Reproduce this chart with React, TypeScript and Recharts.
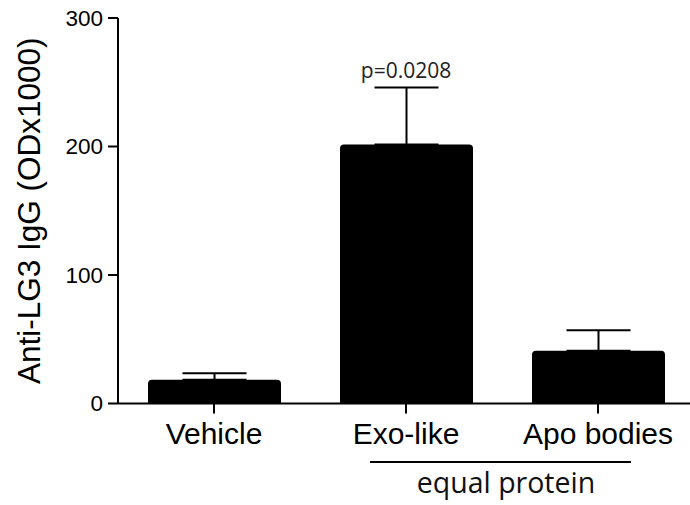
import React from 'react';
import { BarChart, Bar, XAxis, YAxis, ErrorBar, ReferenceDot } from 'recharts';

const categories = ['Vehicle', 'Exo-like', 'Apo bodies'];
const means = [18.5, 201.5, 41];
const sems = [5, 44.5, 16];
const yTicks = [0, 100, 200, 300];
const pValueLabel = 'p=0.0208';
const groupLabel = 'equal protein';

const data = categories.map((c, i) => ({ name: c, value: means[i], err: [0, sems[i]] }));

const XTick = (props: any) => {
  const { x, y, payload } = props;
  return (
    <text x={x} y={y} dy="0.71em" textAnchor="middle" fontSize={30} fill="#000"
      fontFamily="'Liberation Sans', Arial, sans-serif">{payload.value}</text>
  );
};

const YTick = (props: any) => {
  const { x, y, payload } = props;
  return (
    <text x={x} y={y} dy="0.355em" textAnchor="end" fontSize={22.5} fill="#000"
      fontFamily="'Liberation Sans', Arial, sans-serif">{payload.value}</text>
  );
};

export default function App() {
  return (
    <div style={{ position: 'absolute', left: 0, top: 0, width: 690, height: 505, background: '#fff' }}>
      <BarChart width={690} height={505} data={data}
        margin={{ top: 18, right: -4, bottom: 71.5, left: 0 }}>
        <XAxis dataKey="name" height={30} stroke="#000" strokeWidth={2} tickSize={10} tickMargin={9}
          tick={<XTick />} tickLine={{ stroke: '#000', strokeWidth: 2 }} />
        <YAxis width={118} domain={[0, 300]} ticks={yTicks} stroke="#000" strokeWidth={2}
          tickSize={10} tickMargin={5} tick={<YTick />} tickLine={{ stroke: '#000', strokeWidth: 2 }}
          label={{
            content: (p: any) => {
              const vb = p.viewBox;
              const cx = 29;
              const cy = vb.y + vb.height / 2;
              return (
                <text x={cx} y={cy} transform={`rotate(-90 ${cx} ${cy})`} textAnchor="middle"
                  dominantBaseline="central" fontSize={31.5} fill="#000"
                  fontFamily="'Liberation Sans', Arial, sans-serif">Anti-LG3 IgG (ODx1000)</text>
              );
            },
          }} />
        <Bar dataKey="value" fill="#000" barSize={133} radius={[4, 4, 0, 0]} isAnimationActive={false}>
          <ErrorBar dataKey="err" width={32} stroke="#000" strokeWidth={2} isAnimationActive={false} />
        </Bar>
        <ReferenceDot x="Exo-like" y={means[1] + sems[1]} r={0} fill="none" stroke="none"
          label={{
            content: (p: any) => {
              const vb = p.viewBox;
              const cx = vb.x + (vb.width || 0) / 2;
              return (
                <text x={cx} y={vb.y - 9} textAnchor="middle" fontSize={21} fill="#222"
                  fontFamily="'Open Sans', 'Noto Sans', sans-serif">{pValueLabel}</text>
              );
            },
          }} />
      </BarChart>
      <svg width={690} height={505} style={{ position: 'absolute', left: 0, top: 0, pointerEvents: 'none' }}>
        <line x1={370} y1={462} x2={631} y2={462} stroke="#000" strokeWidth={2} />
        <text x={506} y={493} textAnchor="middle" fontSize={28.5} fill="#111"
          fontFamily="'Open Sans', 'Noto Sans', sans-serif">{groupLabel}</text>
      </svg>
    </div>
  );
}
